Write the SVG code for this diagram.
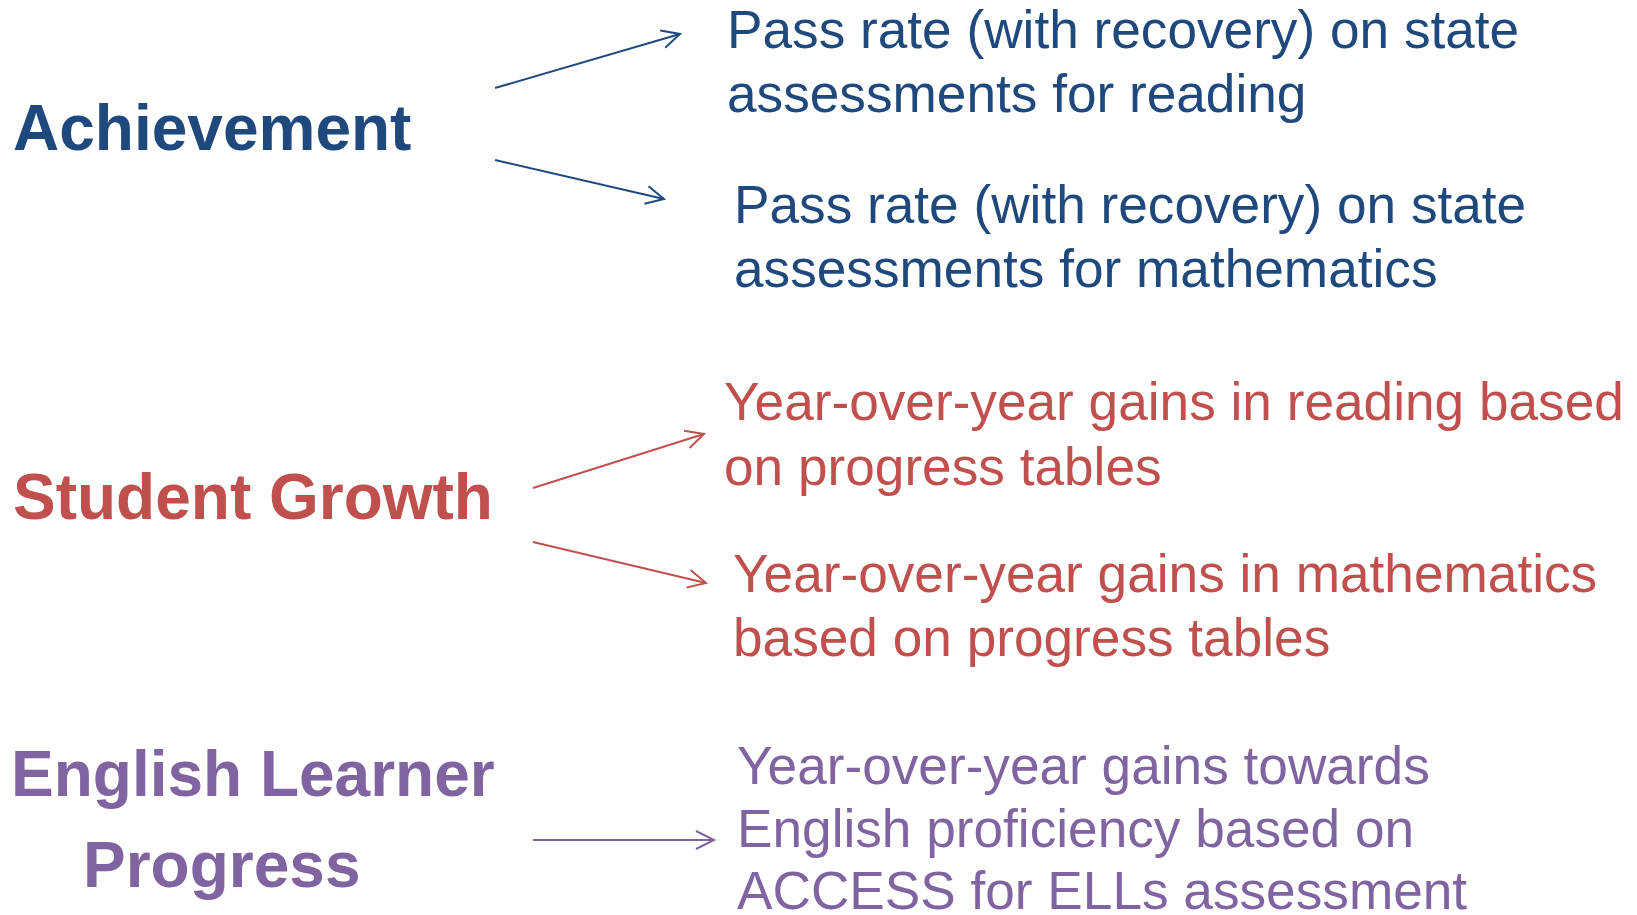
<svg xmlns="http://www.w3.org/2000/svg" width="1637" height="915" viewBox="0 0 1637 915">
  <style>
    .head { font-family: "Liberation Sans", Arial, sans-serif; font-weight: bold; font-size: 64px; }
    .item { font-family: "Liberation Sans", Arial, sans-serif; font-size: 53.2px; }
    .blue { fill: #1F497D; }
    .red { fill: #C0504D; }
    .purple { fill: #8064A2; }
    .conn { fill: none; stroke-width: 2; }
  </style>
  <defs>
    <marker id="arrow-blue" viewBox="0 0 20 20" refX="19" refY="10" markerWidth="20" markerHeight="20" markerUnits="userSpaceOnUse" orient="auto" overflow="visible">
      <path d="M1,1 L19,10 L1,19" fill="none" stroke="#1F497D" stroke-width="2"/>
    </marker>
    <marker id="arrow-red" viewBox="0 0 20 20" refX="19" refY="10" markerWidth="20" markerHeight="20" markerUnits="userSpaceOnUse" orient="auto" overflow="visible">
      <path d="M1,1 L19,10 L1,19" fill="none" stroke="#C0504D" stroke-width="2"/>
    </marker>
    <marker id="arrow-purple" viewBox="0 0 20 20" refX="19" refY="10" markerWidth="20" markerHeight="20" markerUnits="userSpaceOnUse" orient="auto" overflow="visible">
      <path d="M1,1 L19,10 L1,19" fill="none" stroke="#8064A2" stroke-width="2"/>
    </marker>
  </defs>
  <rect width="1637" height="915" fill="#FFFFFF"/>

  <!-- category headings -->
  <g id="achievement"><text class="head blue" x="13" y="150">Achievement</text></g>
  <g id="student-growth"><text class="head red" x="13" y="519">Student Growth</text></g>
  <g id="english-learner-progress">
    <text class="head purple" x="11" y="796">English Learner</text>
    <text class="head purple" x="83" y="887">Progress</text>
  </g>

  <!-- measures -->
  <g id="reading-pass-rate">
    <text class="item blue" x="727" y="48">Pass rate (with recovery) on state</text>
    <text class="item blue" x="727" y="112">assessments for reading</text>
  </g>
  <g id="math-pass-rate">
    <text class="item blue" x="734" y="223">Pass rate (with recovery) on state</text>
    <text class="item blue" x="734" y="287">assessments for mathematics</text>
  </g>
  <g id="reading-gains">
    <text class="item red" x="724" y="420">Year-over-year gains in reading based</text>
    <text class="item red" x="724" y="485">on progress tables</text>
  </g>
  <g id="math-gains">
    <text class="item red" x="733" y="592">Year-over-year gains in mathematics</text>
    <text class="item red" x="733" y="656">based on progress tables</text>
  </g>
  <g id="english-proficiency-gains">
    <text class="item purple" x="737" y="784">Year-over-year gains towards</text>
    <text class="item purple" x="737" y="847">English proficiency based on</text>
    <text class="item purple" x="737" y="909">ACCESS for ELLs assessment</text>
  </g>

  <!-- connectors -->
  <g id="connectors" class="conn">
    <line x1="495" y1="88" x2="680" y2="34" stroke="#1F497D" marker-end="url(#arrow-blue)"/>
    <line x1="495" y1="160" x2="664" y2="199" stroke="#1F497D" marker-end="url(#arrow-blue)"/>
    <line x1="533" y1="488" x2="704" y2="434" stroke="#C0504D" marker-end="url(#arrow-red)"/>
    <line x1="533" y1="542" x2="706" y2="583" stroke="#C0504D" marker-end="url(#arrow-red)"/>
    <line x1="533" y1="840" x2="714" y2="840" stroke="#8064A2" marker-end="url(#arrow-purple)"/>
  </g>
</svg>
